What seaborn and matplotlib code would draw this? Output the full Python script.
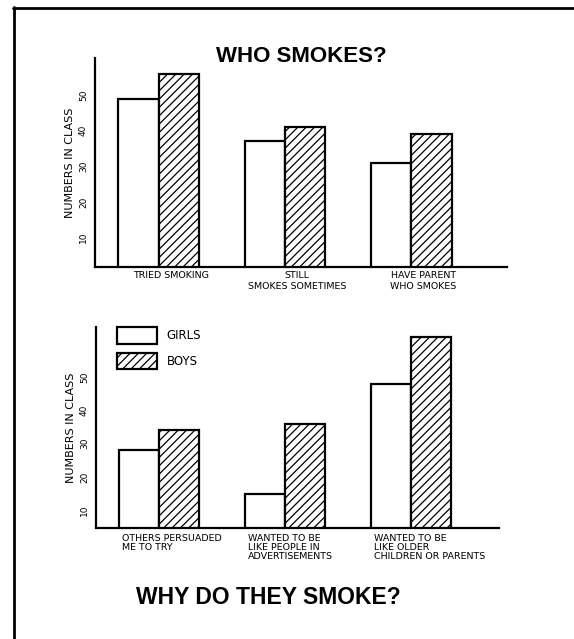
import matplotlib
matplotlib.use("Agg")
import matplotlib.pyplot as plt
import matplotlib.transforms as mtransforms
from matplotlib.patches import Patch
from matplotlib.lines import Line2D
import seaborn as sns
import pandas as pd

# ---------------- data ----------------
who_categories = ["TRIED SMOKING", "STILL\nSMOKES SOMETIMES", "HAVE PARENT\nWHO SMOKES"]
who_girls = [49, 37, 31]
who_boys = [56, 41, 39]

why_categories = ["OTHERS PERSUADED\nME TO TRY",
                  "WANTED TO BE\nLIKE PEOPLE IN\nADVERTISEMENTS",
                  "WANTED TO BE\nLIKE OLDER\nCHILDREN OR PARENTS"]
why_girls = [28, 15, 48]
why_boys = [34, 36, 62]

groups = ["GIRLS", "BOYS"]
y_ticks = [10, 20, 30, 40, 50]
y_label = "NUMBERS IN CLASS"
title_top = "WHO SMOKES?"
title_bottom = "WHY DO THEY SMOKE?"

# ---------------- style ----------------
sns.set_style("white")
plt.rcParams["font.family"] = ["DejaVu Sans"]
plt.rcParams["hatch.linewidth"] = 0.9
plt.rcParams["hatch.color"] = "black"
for k in ("text.color", "axes.labelcolor", "xtick.color", "ytick.color"):
    plt.rcParams[k] = "black"

W, H = 574, 639
fig = plt.figure(figsize=(W / 100, H / 100), dpi=100)
HATCH = "////"


def long_df(cats, girls, boys):
    rows = []
    for c, g, b in zip(cats, girls, boys):
        rows.append({"cat": c, "group": groups[0], "val": g})
        rows.append({"cat": c, "group": groups[1], "val": b})
    return pd.DataFrame(rows)


def px_axes(left, right, top, bottom):
    return fig.add_axes([left / W, 1 - bottom / H, (right - left) / W, (bottom - top) / H])


def draw(ax, cats, girls, boys, xlim, ylim):
    df = long_df(cats, girls, boys)
    sns.barplot(data=df, x="cat", y="val", hue="group", order=cats, hue_order=groups,
                palette={groups[0]: "white", groups[1]: "white"},
                edgecolor="black", linewidth=1.6, width=0.64, gap=0,
                legend=False, ax=ax, errorbar=None)
    for bar in ax.containers[1]:
        bar.set_hatch(HATCH)
    ax.set_xlim(*xlim)
    ax.set_ylim(*ylim)
    sns.despine(ax=ax)
    for s in ("left", "bottom"):
        ax.spines[s].set_linewidth(1.6)
        ax.spines[s].set_color("black")
    ax.set_xlabel("")
    ax.set_yticks(y_ticks)
    ax.set_yticklabels([str(t) for t in y_ticks])
    ax.tick_params(axis="y", labelrotation=90, length=0, pad=5, labelsize=6.5)
    for lab in ax.get_yticklabels():
        lab.set_va("center")
    ax.set_ylabel(y_label, fontsize=8, labelpad=3)
    ax.set_facecolor("none")


# ---------------- top chart ----------------
ax1 = px_axes(95, 507, 58, 267)
draw(ax1, who_categories, who_girls, who_boys, (-0.5055, 2.758), (1.74, 60.4))
ax1.set_xticks(range(len(who_categories)))
ax1.set_xticklabels(who_categories, fontsize=6.8, linespacing=1.25)
ax1.tick_params(axis="x", length=0, pad=3)
off1 = mtransforms.ScaledTranslation(12 / 100, 0, fig.dpi_scale_trans)
for lab in ax1.get_xticklabels():
    lab.set_ha("center")
    lab.set_multialignment("center")
    lab.set_transform(lab.get_transform() + off1)

# ---------------- bottom chart ----------------
ax2 = px_axes(96, 499, 327, 528)
draw(ax2, why_categories, why_girls, why_boys, (-0.4992, 2.700), (4.7, 65.0))
ax2.set_xticks(range(len(why_categories)))
ax2.set_xticklabels(why_categories, fontsize=6.8, linespacing=1.0)
ax2.tick_params(axis="x", length=0, pad=4)
off2 = mtransforms.ScaledTranslation(-37 / 100, 0, fig.dpi_scale_trans)
for lab in ax2.get_xticklabels():
    lab.set_ha("left")
    lab.set_multialignment("left")
    lab.set_transform(lab.get_transform() + off2)

handles = [Patch(facecolor="white", edgecolor="black", linewidth=1.6),
           Patch(facecolor="white", edgecolor="black", linewidth=1.6, hatch=HATCH)]
ax2.legend(handles, groups, loc="upper left", bbox_to_anchor=(0.052, 1.0),
           frameon=False, borderpad=0, borderaxespad=0, handlelength=3.4,
           handleheight=1.8, labelspacing=0.75, handletextpad=0.8, fontsize=8.5)

# ---------------- titles ----------------
fig.text(301 / W, 1 - 57 / H, title_top, ha="center", va="center",
         fontsize=16, fontweight="bold", family=["Liberation Sans", "DejaVu Sans"])
fig.text(268 / W, 1 - 597 / H, title_bottom, ha="center", va="center",
         fontsize=16.5, fontweight="bold", family=["Liberation Sans", "DejaVu Sans"])

# ---------------- frame ----------------
fig.add_artist(Line2D([13.5 / W, 13.5 / W], [0, 1 - 6.5 / H], transform=fig.transFigure,
                      color="black", lw=2))
fig.add_artist(Line2D([12.5 / W, 1], [1 - 7.5 / H, 1 - 7.5 / H], transform=fig.transFigure,
                      color="black", lw=2))

fig.savefig("out.png", dpi=100)
